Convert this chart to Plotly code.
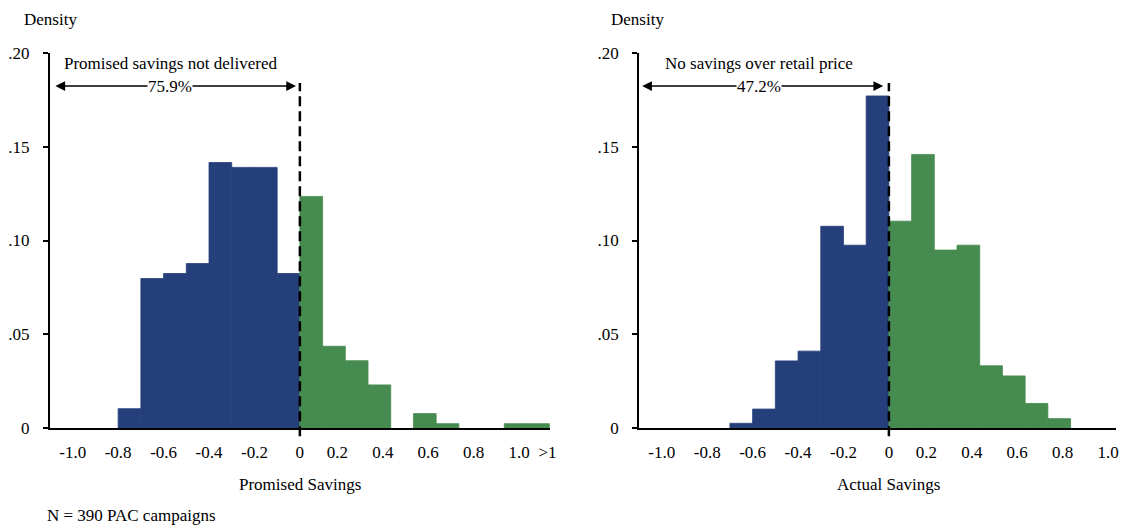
import plotly.graph_objects as go

# Histogram bins (left edge of each 0.1-wide bin) and densities
BIN_WIDTH = 0.1

promised_bin_start = [-0.8, -0.7, -0.6, -0.5, -0.4, -0.3, -0.2, -0.1,
                      0.0, 0.1, 0.2, 0.3, 0.4, 0.5, 0.6, 0.7, 0.8, 0.9, 1.0]
promised_density = [0.0103, 0.0797, 0.0824, 0.0877, 0.1416, 0.1390, 0.1390, 0.0824,
                    0.1235, 0.0436, 0.0359, 0.0230, 0.0, 0.0077, 0.0023, 0.0, 0.0,
                    0.0023, 0.0023]

actual_bin_start = [-0.7, -0.6, -0.5, -0.4, -0.3, -0.2, -0.1,
                    0.0, 0.1, 0.2, 0.3, 0.4, 0.5, 0.6, 0.7]
actual_density = [0.0025, 0.0101, 0.0358, 0.0410, 0.1076, 0.0975, 0.1771,
                  0.1103, 0.1459, 0.0949, 0.0975, 0.0332, 0.0278, 0.0131, 0.0050]

promised_share_text = "75.9%"
actual_share_text = "47.2%"

y_tick_values = [0, 0.05, 0.10, 0.15, 0.20]
y_tick_labels = ["0", ".05", ".10", ".15", ".20"]

x_tick_values_promised = [-1.0, -0.8, -0.6, -0.4, -0.2, 0.0, 0.2, 0.4, 0.6, 0.8, 1.0, 1.125]
x_tick_labels_promised = ["-1.0", "-0.8", "-0.6", "-0.4", "-0.2", "0",
                          "0.2", "0.4", "0.6", "0.8", "1.0", ">1"]
x_tick_values_actual = [-1.0, -0.8, -0.6, -0.4, -0.2, 0.0, 0.2, 0.4, 0.6, 0.8, 1.0]
x_tick_labels_actual = ["-1.0", "-0.8", "-0.6", "-0.4", "-0.2", "0",
                        "0.2", "0.4", "0.6", "0.8", "1.0"]

BLUE = "#253F7B"
GREEN = "#468B4F"
FONT = "Liberation Serif, Times New Roman, serif"
FS = 17

# positive-side labels sit a little left of their value
LABEL_SHIFT = 0.035


def label_positions(values):
    return [v if v <= 0 else v - LABEL_SHIFT for v in values]


def add_hist(fig, starts, dens, xa, ya):
    # empty bins are skipped so no outline is drawn along the axis
    neg = [(s, d) for s, d in zip(starts, dens) if s < 0 and d > 0]
    pos = [(s, d) for s, d in zip(starts, dens) if s >= 0 and d > 0]
    for group, color in ((neg, BLUE), (pos, GREEN)):
        fig.add_trace(go.Bar(
            x=[s + BIN_WIDTH / 2 for s, _ in group],
            y=[d for _, d in group],
            width=BIN_WIDTH,
            marker=dict(color=color, line=dict(width=0.8, color=color)),
            xaxis=xa, yaxis=ya, showlegend=False, hoverinfo="skip",
        ))


fig = go.Figure()
add_hist(fig, promised_bin_start, promised_density, "x", "y")
add_hist(fig, actual_bin_start, actual_density, "x2", "y2")

axis_common = dict(showline=True, linewidth=2, linecolor="black", showgrid=False,
                   zeroline=False, tickfont=dict(family=FONT, size=FS, color="black"))

fig.update_layout(
    width=1131, height=526,
    margin=dict(l=48, r=8, t=53, b=98),
    paper_bgcolor="white", plot_bgcolor="white",
    font=dict(family=FONT, size=FS, color="black"),
    barmode="overlay",
    xaxis=dict(domain=[0, 0.4688], range=[-1.1, 1.1], anchor="y", ticks="",
               tickmode="array", tickvals=label_positions(x_tick_values_promised),
               ticktext=x_tick_labels_promised, ticklabelstandoff=8, **axis_common),
    yaxis=dict(domain=[0, 1], range=[0, 0.2], anchor="x", ticks="outside", ticklen=5,
               tickwidth=1.5, tickcolor="black", tickmode="array",
               tickvals=y_tick_values, ticktext=y_tick_labels, ticklabelstandoff=10,
               **axis_common),
    xaxis2=dict(domain=[0.5526, 1], range=[-1.1, 1.0], anchor="y2", ticks="",
                tickmode="array", tickvals=label_positions(x_tick_values_actual),
                ticktext=x_tick_labels_actual, ticklabelstandoff=8, **axis_common),
    yaxis2=dict(domain=[0, 1], range=[0, 0.2], anchor="x2", ticks="outside", ticklen=5,
                tickwidth=1.5, tickcolor="black", tickmode="array",
                tickvals=y_tick_values, ticktext=y_tick_labels, ticklabelstandoff=10,
                **axis_common),
)

# dashed reference line at zero savings, reaching just below the x axis
for xr in ("x", "x2"):
    fig.add_shape(type="line", xref=xr, yref="paper", x0=0, x1=0, y0=-0.022, y1=0.92,
                  line=dict(color="black", width=2.5, dash="10px,5px"))

ARROW_Y = 0.1824
TITLE_Y = 0.1942


def add_span(fig, xr, yr, x_left, x_right, pct, title):
    fig.add_annotation(x=x_right, y=ARROW_Y, ax=x_left, ay=ARROW_Y, xref=xr, yref=yr,
                       axref=xr, ayref=yr, text="", showarrow=True, arrowhead=2,
                       arrowside="end+start", arrowsize=1.3, arrowwidth=1.5,
                       arrowcolor="black")
    mid = -0.57
    fig.add_annotation(x=mid, y=ARROW_Y, xref=xr, yref=yr, text=pct, showarrow=False,
                       bgcolor="white", borderpad=0, font=dict(size=FS))
    fig.add_annotation(x=mid, y=TITLE_Y, xref=xr, yref=yr, text=title, showarrow=False,
                       font=dict(size=FS))


add_span(fig, "x", "y", -1.083, -0.017, promised_share_text, "Promised savings not delivered")
add_span(fig, "x2", "y2", -1.093, -0.025, actual_share_text, "No savings over retail price")

# axis captions
fig.add_annotation(x=0.0005, y=1.088, xref="paper", yref="paper", text="Density",
                   showarrow=False, xanchor="center", yanchor="middle")
fig.add_annotation(x=0.5507, y=1.088, xref="paper", yref="paper", text="Density",
                   showarrow=False, xanchor="center", yanchor="middle")
fig.add_annotation(x=0, y=-0.152, xref="x", yref="paper", text="Promised Savings",
                   showarrow=False, yanchor="middle")
fig.add_annotation(x=0, y=-0.152, xref="x2", yref="paper", text="Actual Savings",
                   showarrow=False, yanchor="middle")
fig.add_annotation(x=-0.0047, y=-0.232, xref="paper", yref="paper",
                   text="N = 390 PAC campaigns", showarrow=False,
                   xanchor="left", yanchor="middle")

fig.write_html("out.html")
